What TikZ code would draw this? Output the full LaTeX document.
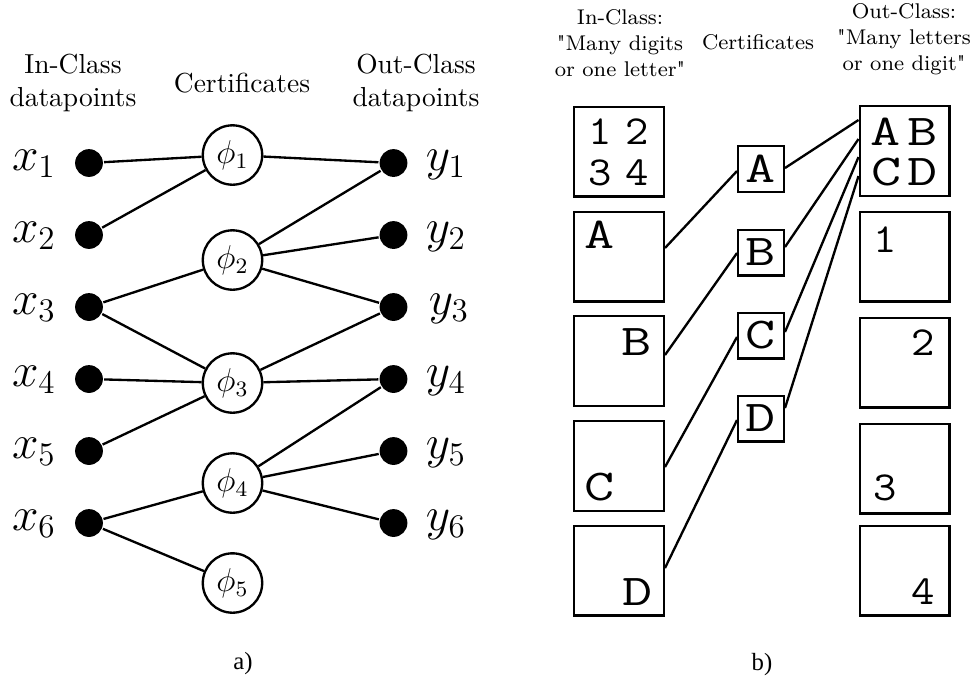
\documentclass[tikz,border=0pt]{standalone}
\usepackage{fontspec}
\newfontfamily\capfont{Liberation Serif}
\newfontfamily\boxtt[FakeStretch=1.33]{Latin Modern Mono}
\newfontfamily\digtt[FakeStretch=1.1]{Latin Modern Mono}
\usetikzlibrary{calc}
\begin{document}
\begin{tikzpicture}[x=0.36364pt, y=-0.36364pt, line width=0.85pt,
  dot/.style={circle, fill=black, inner sep=0pt, minimum size=10.1pt},
  certc/.style={circle, draw, inner sep=0pt, minimum size=21.6pt, font=\large},
  lab/.style={font=\LARGE, anchor=base, inner sep=0pt},
  hdr/.style={align=center, inner sep=0pt, anchor=north, font=\normalsize},
  hdrone/.style={inner sep=0pt, anchor=base, font=\normalsize},
  hdrb/.style={align=center, inner sep=0pt, anchor=north, font=\fontsize{7.74}{9.6}\selectfont},
  hdrbone/.style={inner sep=0pt, anchor=base, font=\fontsize{7.74}{9.6}\selectfont},
  bigbox/.style={draw, inner sep=0pt, minimum size=32.6pt},
  cbox/.style={draw, inner sep=0pt, minimum size=16.6pt},
  ttl/.style={font=\boxtt\fontsize{16}{16}\selectfont, inner sep=0pt},
  ttd/.style={font=\digtt\fontsize{15}{15}\selectfont, inner sep=0pt},
  capt/.style={font=\capfont\fontsize{9}{10}\selectfont, inner sep=0pt},
  link/.style={draw}
]
\useasboundingbox (0,0) rectangle (974,680);

% ---------- panel a ----------
\node[hdr] (hin) at (73,53) {In-Class\\datapoints};
\node[hdrone] (hcert) at (242,92) {Certificates};
\node[hdr] (hout) at (416,53) {Out-Class\\datapoints};

\foreach \i/\yy in {1/163,2/235,3/307,4/379,5/451,6/523}{
  \node[dot] (x\i) at (89,\yy) {};
  \node[dot] (y\i) at (393.5,\yy) {};
  \node[lab] (lx\i) at (34,\yy+7) {$x_{\i}$};
}
\node[lab] (ly1) at (446,170) {$y_{1}$};
\node[lab] (ly2) at (446,242) {$y_{2}$};
\node[lab] (ly3) at (449,314) {$y_{3}$};
\node[lab] (ly4) at (446,386) {$y_{4}$};
\node[lab] (ly5) at (446,458) {$y_{5}$};
\node[lab] (ly6) at (446,530) {$y_{6}$};

\node[certc] (p1) at (232.5,155) {$\phi_1$};
\node[certc] (p2) at (232.5,260) {$\phi_2$};
\node[certc] (p3) at (232.5,383) {$\phi_3$};
\node[certc] (p4) at (232.5,483) {$\phi_4$};
\node[certc] (p5) at (232.5,583) {$\phi_5$};

\path[link] (x1) -- (p1);
\path[link] (x2) -- (p1);
\path[link] (p1) -- (y1);
\path[link] (p2) -- (y1);
\path[link] (p2) -- (y2);
\path[link] (p2) -- (y3);
\path[link] (x3) -- (p2);
\path[link] (x3) -- (p3);
\path[link] (x4) -- (p3);
\path[link] (x5) -- (p3);
\path[link] (p3) -- (y3);
\path[link] (p3) -- (y4);
\path[link] (p4) -- (y4);
\path[link] (p4) -- (y5);
\path[link] (p4) -- (y6);
\path[link] (x6) -- (p4);
\path[link] (x6) -- (p5);

\node[capt] (capa) at (243,664) {a)};

% ---------- panel b ----------
\node[hdrb] (bhin) at (620,7.9) {In-Class:\\\textquotedbl Many digits\\or one letter\textquotedbl};
\node[hdrbone] (bhcert) at (758,49.3) {Certificates};
\node[hdrb] (bhout) at (904,1.9) {Out-Class:\\\textquotedbl Many letters\\or one digit\textquotedbl};

\node[bigbox] (l1) at (619,151.5) {};
\node[bigbox] (l2) at (619,256.5) {};
\node[bigbox] (l3) at (619,361) {};
\node[bigbox] (l4) at (619,466) {};
\node[bigbox] (l5) at (619,570.5) {};

\node[bigbox] (r1) at (904.5,151) {};
\node[bigbox] (r2) at (904.5,256.5) {};
\node[bigbox] (r3) at (904.5,362.5) {};
\node[bigbox] (r4) at (904.5,468.5) {};
\node[bigbox] (r5) at (904.5,570.5) {};

\node[cbox, ttl] (cA) at (761,169) {A};
\node[cbox, ttl] (cB) at (761,252.5) {B};
\node[cbox, ttl] (cC) at (761,335.5) {C};
\node[cbox, ttl] (cD) at (761,418.5) {D};

% texts in left boxes
\node[ttd] (t11) at (600,132) {1};
\node[ttd] (t12) at (637,132) {2};
\node[ttd] (t13) at (600,173) {3};
\node[ttd] (t14) at (637,173) {4};
\node[ttl] (t2) at (600,235) {A};
\node[ttl] (t3) at (637,342) {B};
\node[ttl] (t4) at (600,487) {C};
\node[ttl] (t5) at (638,592) {D};
% texts in right boxes
\node[ttl] (s11) at (886,132) {A};
\node[ttl] (s12) at (923,132) {B};
\node[ttl] (s13) at (887,172) {C};
\node[ttl] (s14) at (923,172) {D};
\node[ttd] (s2) at (885,240) {1};
\node[ttd] (s3) at (923,343) {2};
\node[ttd] (s4) at (885,488) {3};
\node[ttd] (s5) at (923,592) {4};

\path[link] ($(l2.east)+(0,-8.5)$) -- ($(cA.west)+(0,2)$);
\path[link] ($(cA.east)+(0,-1)$) -- ($(r1.west)+(0,-31)$);
\path[link] ($(l3.east)+(0,-6)$) -- ($(cB.west)+(0,0.5)$);
\path[link] ($(cB.east)+(0,-5.5)$) -- ($(r1.west)+(0,-12)$);
\path[link] ($(l4.east)+(0,1)$) -- ($(cC.west)+(0,1.5)$);
\path[link] ($(cC.east)+(0,-3.5)$) -- ($(r1.west)+(0,6)$);
\path[link] ($(l5.east)+(0,-2.5)$) -- ($(cD.west)+(0,1.5)$);
\path[link] ($(cD.east)+(0,-10.5)$) -- ($(r1.west)+(0,25)$);

\node[capt] (capb) at (762,665) {b)};
\end{tikzpicture}
\end{document}
